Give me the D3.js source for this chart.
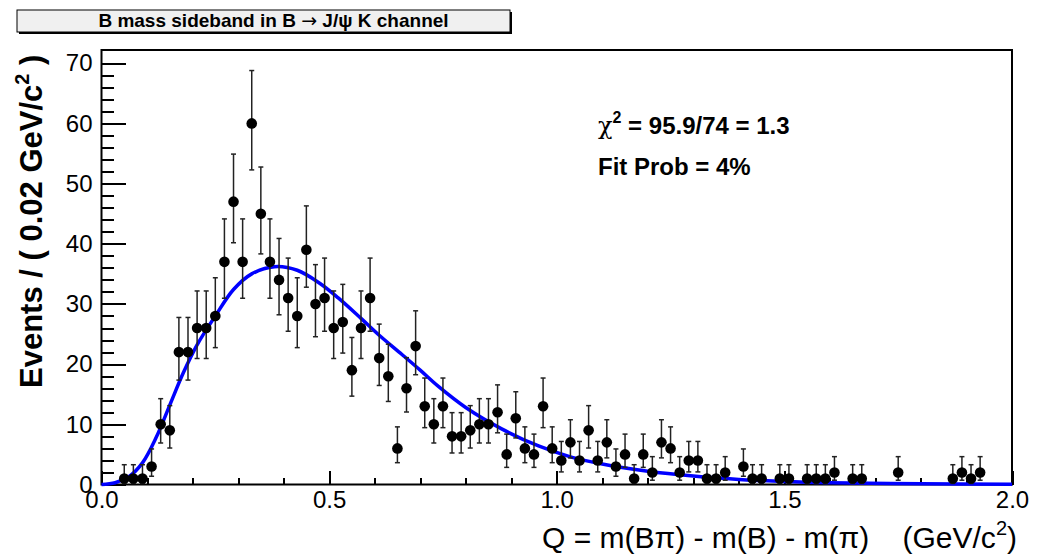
<!DOCTYPE html>
<html>
<head>
    <meta charset="utf-8">
    <style>
        body{
            margin: 0;
            background-color: white;
        }
        svg text{
            font-family: "Liberation Sans", Arial, Helvetica, sans-serif;
            white-space: pre;
        }
        .axis path{
            display: none;
        }
        .axis .tick line{
            stroke: black;
            stroke-width: 2px;
            shape-rendering: crispEdges;
        }
        .axis .tick text{
            font-size: 24px;
            fill: black;
        }
    </style>
</head>
<body>
    <svg class="vis"></svg>

    <script src="https://cdnjs.cloudflare.com/ajax/libs/d3/7.8.5/d3.min.js"></script>

    <script>

        var width = 1037;
        var height = 560;

        // histogram bins (centre, GeV/c^2) and event counts, empty bins left out
        var binCenter = [0.05, 0.07, 0.09, 0.11, 0.13, 0.15, 0.17, 0.19, 0.21, 0.23,
                         0.25, 0.27, 0.29, 0.31, 0.33, 0.35, 0.37, 0.39, 0.41, 0.43,
                         0.45, 0.47, 0.49, 0.51, 0.53, 0.55, 0.57, 0.59, 0.61, 0.63,
                         0.65, 0.67, 0.69, 0.71, 0.73, 0.75, 0.77, 0.79, 0.81, 0.83,
                         0.85, 0.87, 0.89, 0.91, 0.93, 0.95, 0.97, 0.99, 1.01, 1.03,
                         1.05, 1.07, 1.09, 1.11, 1.13, 1.15, 1.17, 1.19, 1.21, 1.23,
                         1.25, 1.27, 1.29, 1.31, 1.33, 1.35, 1.37, 1.41, 1.43, 1.45,
                         1.49, 1.51, 1.55, 1.57, 1.59, 1.61, 1.65, 1.67, 1.75, 1.87,
                         1.89, 1.91, 1.93];
        var events = [1, 1, 1, 3, 10, 9, 22, 22, 26, 26,
                      28, 37, 47, 37, 60, 45, 37, 34, 31, 28,
                      39, 30, 31, 26, 27, 19, 26, 31, 21, 18,
                      6, 16, 23, 13, 10, 13, 8, 8, 9, 10,
                      10, 12, 5, 11, 6, 5, 13, 6, 4, 7,
                      4, 9, 4, 7, 3, 5, 1, 5, 2, 7,
                      6, 2, 4, 4, 1, 1, 2, 3, 1, 1,
                      1, 1, 1, 1, 1, 2, 1, 1, 2, 1,
                      2, 1, 2];

        // fitted curve
        var fitQ = [0, 0.03, 0.06, 0.09, 0.12, 0.15, 0.18, 0.21, 0.25, 0.29,
                    0.33, 0.38, 0.43, 0.48, 0.52, 0.57, 0.61, 0.66, 0.70, 0.74,
                    0.80, 0.88, 0.96, 1.03, 1.10, 1.20, 1.30, 1.40, 1.50, 1.60,
                    1.80, 2.00];
        var fitY = [0, 0.3, 1.3, 3.6, 7.8, 13.2, 18.6, 23.2, 28.0, 32.4,
                    35.0, 36.2, 35.6, 33.4, 31.0, 27.6, 24.8, 21.6, 19.0, 16.3,
                    12.8, 9.2, 6.4, 4.6, 3.4, 2.2, 1.4, 0.85, 0.5, 0.3,
                    0.12, 0.05];

        var xMajorTicks = [0, 0.5, 1.0, 1.5, 2.0];
        var yMajorTicks = [0, 10, 20, 30, 40, 50, 60, 70];

        var titleParts = ["B mass sideband in B ", "\u2192", " J/\u03c8 K channel"];
        var chi2Text = " = 95.9/74 = 1.3";
        var probText = "Fit Prob = 4%";

        var frame = {left: 101.5, right: 1012, top: 50, bottom: 484.5};

        var vis = d3.select("svg.vis")
                 .attr("width", width)
                 .attr("height", height);

        var x = d3.scaleLinear().domain([0, 2]).range([frame.left, frame.right]);
        var y = d3.scaleLinear().domain([0, 72.2]).range([frame.bottom, frame.top]);

        // poisson 68% interval (Wilson-Hilferty approx.)
        function poissonLow(n){
            if (n === 0) return 0;
            return n * Math.pow(1 - 1/(9*n) - 1/(3*Math.sqrt(n)), 3);
        }
        function poissonHigh(n){
            var m = n + 1;
            return m * Math.pow(1 - 1/(9*m) + 1/(3*Math.sqrt(m)), 3);
        }

        // title box
        var tb = {x: 17, y: 10, w: 493, h: 22};
        vis.append("rect")
            .attr("x", tb.x + 2).attr("y", tb.y + 2)
            .attr("width", tb.w).attr("height", tb.h)
            .attr("fill", "black");
        vis.append("rect")
            .attr("x", tb.x).attr("y", tb.y)
            .attr("width", tb.w).attr("height", tb.h)
            .attr("fill", "#f0f0f0")
            .attr("stroke", "black")
            .attr("stroke-width", 1);
        var tt = vis.append("text")
            .attr("x", tb.x + tb.w / 2 + 10)
            .attr("y", tb.y + 17)
            .attr("text-anchor", "middle")
            .attr("font-size", "19px")
            .attr("font-weight", "bold");
        tt.append("tspan").text(titleParts[0]);
        tt.append("tspan").attr("font-family", "DejaVu Sans").attr("font-weight", "normal").text(titleParts[1]);
        tt.append("tspan").text(titleParts[2]);

        // axes
        vis.append("g")
            .attr("class", "axis")
            .attr("transform", `translate(0,${frame.bottom})`)
            .call(d3.axisBottom(x).ticks(20).tickSize(-7).tickFormat(""));
        vis.append("g")
            .attr("class", "axis")
            .attr("transform", `translate(0,${frame.bottom})`)
            .call(d3.axisBottom(x).tickValues(xMajorTicks).tickSize(-14)
                  .tickPadding(6).tickFormat(d3.format(".1f")));

        vis.append("g")
            .attr("class", "axis")
            .attr("transform", `translate(${frame.left},0)`)
            .call(d3.axisLeft(y).tickValues(d3.range(0, 72, 2)).tickSize(-12).tickFormat(""));
        vis.append("g")
            .attr("class", "axis")
            .attr("transform", `translate(${frame.left},0)`)
            .call(d3.axisLeft(y).tickValues(yMajorTicks).tickSize(-24)
                  .tickPadding(9).tickFormat(d3.format("d")));

        // frame
        vis.append("rect")
            .attr("x", frame.left).attr("y", frame.top)
            .attr("width", frame.right - frame.left)
            .attr("height", frame.bottom - frame.top)
            .attr("fill", "none")
            .attr("stroke", "black")
            .attr("stroke-width", 2);

        // fit curve
        var line = d3.line()
            .x((d, i) => x(fitQ[i]))
            .y(d => y(d))
            .curve(d3.curveCatmullRom.alpha(0.5));
        vis.append("path")
            .attr("d", line(fitY))
            .attr("fill", "none")
            .attr("stroke", "#0000ff")
            .attr("stroke-width", 3.5);

        // data points with error bars
        var pts = binCenter.map((q, i) => ({q: q, n: events[i]}));
        var g = vis.append("g").attr("class", "points");
        var bars = g.selectAll("g.err").data(pts).enter().append("g").attr("class", "err")
            .attr("stroke", "#222").attr("stroke-width", 1.5);
        bars.append("line")
            .attr("x1", d => x(d.q)).attr("x2", d => x(d.q))
            .attr("y1", d => y(poissonLow(d.n))).attr("y2", d => y(poissonHigh(d.n)));
        bars.append("line")
            .attr("x1", d => x(d.q) - 2.5).attr("x2", d => x(d.q) + 2.5)
            .attr("y1", d => y(poissonHigh(d.n))).attr("y2", d => y(poissonHigh(d.n)));
        bars.append("line")
            .attr("x1", d => x(d.q) - 2.5).attr("x2", d => x(d.q) + 2.5)
            .attr("y1", d => y(poissonLow(d.n))).attr("y2", d => y(poissonLow(d.n)));
        g.selectAll("circle").data(pts).enter().append("circle")
            .attr("cx", d => x(d.q))
            .attr("cy", d => y(d.n))
            .attr("r", 5.3)
            .attr("fill", "black");

        // fit info
        var chi = vis.append("text")
            .attr("x", 598).attr("y", 134)
            .attr("font-size", "24px")
            .attr("font-weight", "bold");
        chi.append("tspan").attr("font-family", "DejaVu Serif").attr("font-weight", "normal").text("\u03c7");
        chi.append("tspan").attr("font-size", "16px").attr("dy", -11).text("2");
        chi.append("tspan").attr("dy", 11).text(chi2Text);
        vis.append("text")
            .attr("x", 598).attr("y", 175)
            .attr("font-size", "24px")
            .attr("font-weight", "bold")
            .text(probText);

        // axis titles
        var xt = vis.append("text")
            .attr("x", 1017).attr("y", 548)
            .attr("text-anchor", "end")
            .attr("font-size", "30px");
        xt.append("tspan").text("Q = m(B\u03c0) - m(B) - m(\u03c0)    (GeV/c");
        xt.append("tspan").attr("font-size", "20px").attr("dy", -13).text("2");
        xt.append("tspan").attr("dy", 13).text(")");

        var yt = vis.append("text")
            .attr("transform", "translate(42,388) rotate(-90)")
            .attr("text-anchor", "start")
            .attr("font-size", "31px")
            .attr("font-weight", "bold");
        yt.append("tspan").text("Events / ( 0.02 GeV/c");
        yt.append("tspan").attr("font-size", "20px").attr("dy", -13).text("2");
        yt.append("tspan").attr("dy", 13).text(" )");

    </script>
</body>
</html>
